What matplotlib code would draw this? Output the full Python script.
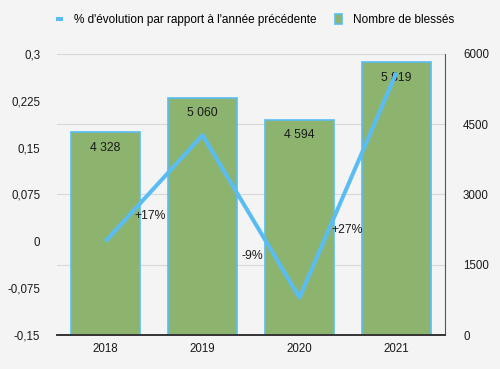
import matplotlib.pyplot as plt
import numpy as np

# Data
years = ['2018', '2019', '2020', '2021']
injured = [4328, 5060, 4594, 5819]
evolution = [0.0, 0.17, -0.09, 0.27]
evo_labels = ['+17%', '-9%', '+27%']

plt.rcParams['font.family'] = ['Liberation Sans', 'DejaVu Sans']
bg = '#f4f4f4'
green = '#8db46f'
blue = '#59bdf4'

fig = plt.figure(figsize=(5, 3.69), dpi=100, facecolor=bg)
ax = fig.add_axes([0.114, 0.092, 0.776, 0.762], facecolor=bg)
x = np.arange(len(years))

# bars on the right scale
bars = ax.bar(x, injured, width=0.71, color=green, edgecolor=blue, linewidth=1.2, zorder=2,
              label='Nombre de blessés')
ax.set_ylim(0, 6000)
ax.set_xlim(-0.5, 3.5)
ax.set_xticks(x)
ax.set_xticklabels(years)
ax.grid(axis='y', color='#d8d8d8', linewidth=0.8, zorder=0)
ax.set_axisbelow(True)
for v, b in zip(injured, bars):
    ax.text(b.get_x() + b.get_width() / 2, v - 200, f'{v:,}'.replace(',', ' '),
            ha='center', va='top', fontsize=8.8, color='#1a1a1a', zorder=3)

# line on the left scale
ax2 = ax.twinx()
ax2.plot(x, evolution, color=blue, linewidth=2.9, solid_capstyle='butt',
         label="% d'évolution par rapport à l'année précédente", zorder=4)
ax2.set_ylim(-0.15, 0.3)
ax2.set_yticks([-0.15, -0.075, 0, 0.075, 0.15, 0.225, 0.3])
ax2.set_yticklabels(['-0,15', '-0,075', '0', '0,075', '0,15', '0,225', '0,3'])
ax2.yaxis.tick_left()
label_offsets = [(-0.04, 0.04), (0.01, -0.024), (-0.01, 0.018)]
for i, lab in enumerate(evo_labels):
    dx, y = label_offsets[i]
    ax2.text(i + 0.5 + dx, y, lab, ha='center', va='center', fontsize=8.8, color='#1a1a1a', zorder=5)

# right axis ticks for bars (after twinx, which resets them)
ax.yaxis.tick_right()
ax.set_yticks([0, 1500, 3000, 4500, 6000])

for a in (ax, ax2):
    a.tick_params(axis='both', length=0, labelsize=8.3, colors='#1a1a1a', pad=6)
    for s in ('top', 'left'):
        a.spines[s].set_visible(False)
    a.spines['right'].set_color('#555555')
    a.spines['bottom'].set_color('#333333')
    a.spines['bottom'].set_linewidth(1.2)
ax2.spines['right'].set_visible(False)
ax.tick_params(axis='y', pad=13)
ax2.tick_params(axis='y', pad=12)

h1, l1 = ax2.get_legend_handles_labels()
h2, l2 = ax.get_legend_handles_labels()
fig.legend(h1 + h2, l1 + l2, loc='upper center', bbox_to_anchor=(0.51, 0.99), ncol=2,
           frameon=False, fontsize=8.5, handlelength=0.6, handleheight=0.9,
           columnspacing=1.6, handletextpad=0.9)

fig.savefig('out.png', dpi=100, facecolor=bg)
